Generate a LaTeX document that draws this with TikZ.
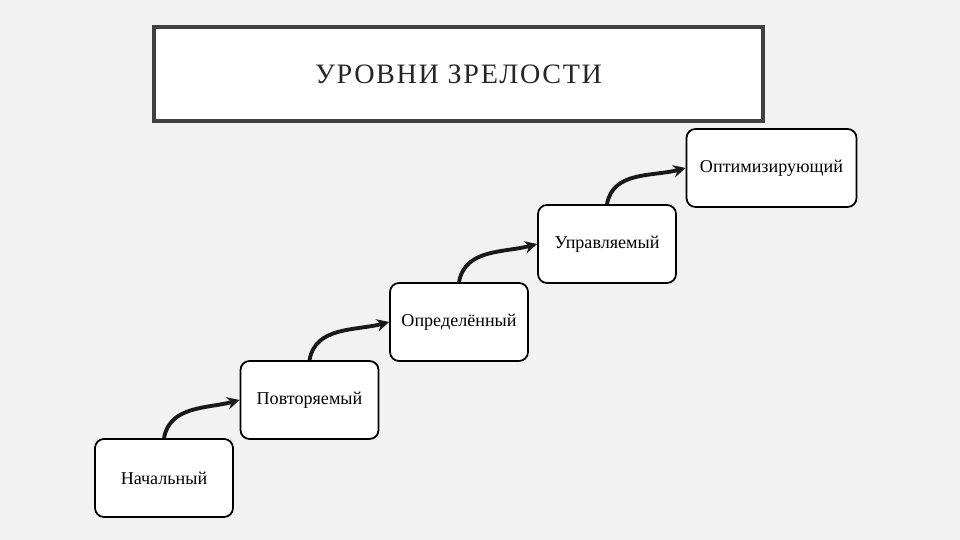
\documentclass[tikz,border=0pt]{standalone}
\usepackage{fontspec}
\setmainfont{Liberation Serif}
\usepackage{tikz}
\usetikzlibrary{arrows.meta,positioning}

\definecolor{bggray}{HTML}{F2F2F2}
\definecolor{framegray}{HTML}{404040}
\definecolor{titletext}{HTML}{262626}

\begin{document}
\begin{tikzpicture}[
    level/.style={draw, fill=white, line width=1pt, rounded corners=0.18cm,
      minimum width=2.76cm, minimum height=1.56cm, font=\fontsize{10.3}{12}\selectfont},
    stepup/.style={-{Stealth[length=7pt,width=7pt]}, line width=2.2pt, black!90,
      out=80, in=195}
  ]
    \fill[bggray] (0,0) rectangle (19.2,10.8);
    \node[draw=framegray, fill=white, line width=2.3pt, minimum width=12.18cm, minimum height=1.88cm,
      text=titletext, font=\fontsize{16}{18}\selectfont\addfontfeature{LetterSpace=6}] (title) at (9.17,9.32) {УРОВНИ ЗРЕЛОСТИ};
    \node[level] (l1) at (3.28,1.24) {Начальный};
    \node[level] (l2) at (6.19,2.8) {Повторяемый};
    \node[level] (l3) at (9.18,4.36) {Определённый};
    \node[level] (l4) at (12.14,5.92) {Управляемый};
    \node[level, minimum width=3.4cm] (l5) at (15.43,7.44) {Оптимизирующий};
    \draw (l1.north) edge [stepup] (l2.west)
    (l2.north) edge [stepup] (l3.west)
    (l3.north) edge [stepup] (l4.west)
    (l4.north) edge [stepup] (l5.west);
  \end{tikzpicture}
\end{document}
